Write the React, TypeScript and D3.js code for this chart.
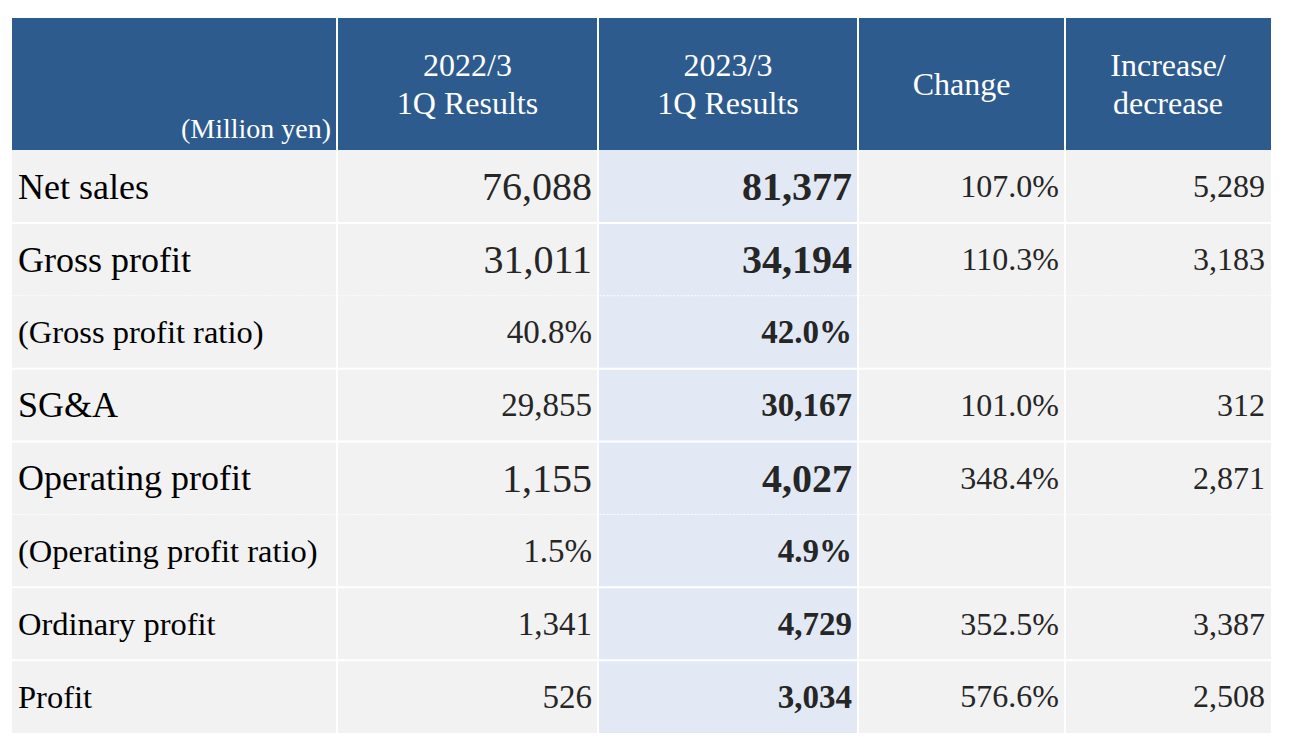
import React from "react";
import * as d3 from "d3";

const headers = ["(Million yen)", "2022/3\n1Q Results", "2023/3\n1Q Results", "Change", "Increase/\ndecrease"];
const rowLabels = [
  "Net sales",
  "Gross profit",
  "(Gross profit ratio)",
  "SG&A",
  "Operating profit",
  "(Operating profit ratio)",
  "Ordinary profit",
  "Profit",
];
const prevResults = ["76,088", "31,011", "40.8%", "29,855", "1,155", "1.5%", "1,341", "526"];
const currResults = ["81,377", "34,194", "42.0%", "30,167", "4,027", "4.9%", "4,729", "3,034"];
const changeValues = ["107.0%", "110.3%", "", "101.0%", "348.4%", "", "352.5%", "576.6%"];
const diffValues = ["5,289", "3,183", "", "312", "2,871", "", "3,387", "2,508"];

// styling (separate from data)
const labelSizes = [36, 36, 32.5, 36, 36, 32.5, 32.5, 32.5];
const resultSizes = [40, 40, 33, 33, 40, 33, 33, 33];
const dottedAfter = [false, true, false, false, true, false, false, false];

const W = 1300;
const H = 748;
const colEdges = [12, 337, 598, 858, 1065, 1271];
const headerTop = 18;
const headerBottom = 150;
const tableBottom = 733;

const HEADER_BG = "#2E5B8D";
const CELL_BG = "#F2F2F2";
const HILITE_BG = "#E2E9F4";
const FONT = "'Liberation Serif', 'Times New Roman', serif";

export default function App() {
  const y = d3
    .scaleBand<number>()
    .domain(d3.range(rowLabels.length))
    .range([headerBottom, tableBottom])
    .paddingInner(0)
    .paddingOuter(0);
  const bw = y.bandwidth();

  const columns = [rowLabels, prevResults, currResults, changeValues, diffValues];

  return (
    <svg width={W} height={H} style={{ position: "absolute", left: 0, top: 0, background: "#fff" }}>
      {/* header */}
      <rect x={colEdges[0]} y={headerTop} width={colEdges[5] - colEdges[0]} height={headerBottom - headerTop} fill={HEADER_BG} />
      {/* body cells */}
      {d3.range(rowLabels.length).map((r) =>
        d3.range(5).map((c) => (
          <rect
            key={`c${r}-${c}`}
            x={colEdges[c]}
            y={y(r)!}
            width={colEdges[c + 1] - colEdges[c]}
            height={bw}
            fill={c === 2 ? HILITE_BG : CELL_BG}
          />
        ))
      )}
      {/* vertical white separators */}
      {colEdges.slice(1, 5).map((x, i) => (
        <line key={`v${i}`} x1={x} x2={x} y1={headerTop} y2={tableBottom} stroke="#fff" strokeWidth={2} />
      ))}
      {/* horizontal separators */}
      {d3.range(rowLabels.length).map((r) => {
        if (r === 0) return null;
        const yy = y(r)!;
        const dotted = dottedAfter[r - 1];
        return (
          <line
            key={`h${r}`}
            x1={colEdges[0]}
            x2={colEdges[5]}
            y1={yy}
            y2={yy}
            stroke="#fff"
            strokeWidth={dotted ? 1 : 2}
            strokeDasharray={dotted ? "1.5,2" : undefined}
          />
        );
      })}
      {/* header texts */}
      <g fontFamily={FONT} fill="#fff">
        <text x={colEdges[1] - 6} y={138} fontSize={28} textAnchor="end">
          {headers[0]}
        </text>
        {headers.slice(1).map((h, i) => {
          const c = i + 1;
          const cx = (colEdges[c] + colEdges[c + 1]) / 2;
          const lines = h.split("\n");
          const baseY = lines.length === 2 ? 76 : 95;
          return (
            <text key={`hd${c}`} x={cx} textAnchor="middle" fontSize={32}>
              {lines.map((ln, k) => (
                <tspan key={k} x={cx} y={baseY + k * 38}>
                  {ln}
                </tspan>
              ))}
            </text>
          );
        })}
      </g>
      {/* body texts */}
      <g fontFamily={FONT}>
        {d3.range(rowLabels.length).map((r) =>
          columns.map((col, c) => {
            const v = col[r];
            if (!v) return null;
            const fs = c === 0 ? labelSizes[r] : c <= 2 ? resultSizes[r] : 32;
            const mid = y(r)! + bw / 2;
            const baseline = mid + fs * 0.34;
            const isLabel = c === 0;
            return (
              <text
                key={`t${r}-${c}`}
                x={isLabel ? colEdges[0] + 6 : colEdges[c + 1] - 6}
                y={baseline}
                fontSize={fs}
                textAnchor={isLabel ? "start" : "end"}
                fontWeight={c === 2 ? "bold" : "normal"}
                fill={isLabel ? "#000" : "#262626"}
              >
                {v}
              </text>
            );
          })
        )}
      </g>
    </svg>
  );
}
